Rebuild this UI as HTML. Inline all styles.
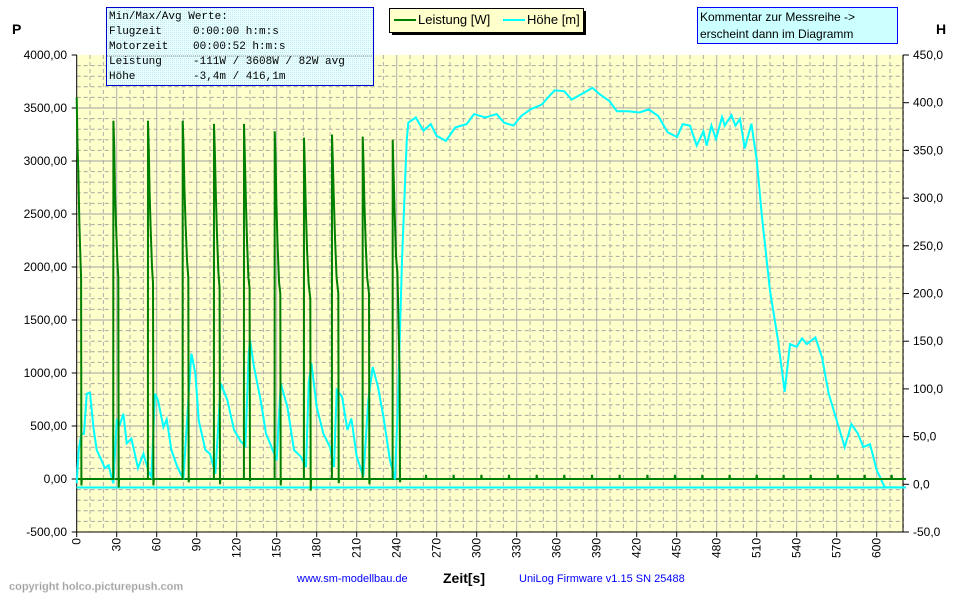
<!DOCTYPE html>
<html><head><meta charset="utf-8"><style>
body{margin:0;background:#fff;width:970px;height:604px;overflow:hidden;font-family:"Liberation Sans",Arial,sans-serif}
svg{position:absolute;left:0;top:0}
</style></head><body>
<svg id="chart" width="970" height="604" xmlns="http://www.w3.org/2000/svg">
<defs>
<pattern id="dots" width="2" height="2" patternUnits="userSpaceOnUse"><rect width="2" height="2" fill="#e6ffff"/><rect width="1" height="1" fill="#c8e8f0"/></pattern>
</defs>
<rect x="76.7" y="55" width="826.3" height="477" fill="#ffffcc"/>
<g id="grid"></g>
<g id="axes"></g>
<g id="series"></g>
<text x="12" y="34" font-size="14" font-weight="bold">P</text>
<text x="936" y="34" font-size="14" font-weight="bold">H</text>
<text x="443" y="583" font-size="14" font-weight="bold">Zeit[s]</text>
<text x="297" y="582" font-size="11" fill="#0000ff">www.sm-modellbau.de</text>
<text x="519" y="582" font-size="11" fill="#0000ff">UniLog Firmware v1.15 SN 25488</text>
<text x="9" y="590" font-size="11" font-weight="bold" fill="#999" stroke="#ddd" stroke-width="0.5">copyright holco.picturepush.com</text>
<g>
<rect x="106.5" y="7.5" width="267" height="78" fill="url(#dots)" stroke="#0000cc" stroke-width="1"/>
<line x1="107" y1="56" x2="373" y2="56" stroke="#888" stroke-dasharray="1,1"/>
<g font-family="'Liberation Mono',monospace" font-size="11" fill="#000">
<text x="109" y="19">Min/Max/Avg Werte:</text>
<text x="109" y="34">Flugzeit</text><text x="193" y="34">0:00:00 h:m:s</text>
<text x="109" y="49">Motorzeit</text><text x="193" y="49">00:00:52 h:m:s</text>
<text x="109" y="64">Leistung</text><text x="193" y="64">-111W / 3608W / 82W avg</text>
<text x="109" y="79">Höhe</text><text x="193" y="79">-3,4m / 416,1m</text>
</g></g>
<g>
<rect x="392" y="11" width="194" height="24" fill="#000"/>
<rect x="389.5" y="8.5" width="194" height="24" fill="#ffffcc" stroke="#000"/>
<line x1="394" y1="20" x2="416" y2="20" stroke="#008000" stroke-width="2"/>
<text x="418" y="24" font-size="13">Leistung [W]</text>
<line x1="503" y1="20" x2="525" y2="20" stroke="#00ffff" stroke-width="2"/>
<text x="527" y="24" font-size="13">Höhe [m]</text>
</g>
<g>
<rect x="697.5" y="7.5" width="200" height="36" fill="#ccffff" stroke="#0000ff"/>
<text x="700" y="21" font-size="12">Kommentar zur Messreihe -&gt;</text>
<text x="700" y="38" font-size="12">erscheint dann im Diagramm</text>
</g>
</svg>
<script>
const powerT=[0,0.6,1.2,2,3,3.3,3.5,3.8,
27.4,27.5,28.1,28.7,29.5,30.5,31.2,31.5,31.8,
53.4,53.5,54.1,54.7,55.5,56.5,57.2,57.5,57.8,
79.4,79.5,80.1,80.8,81.7,82.8,83.7,84,84.3,
102.9,103,103.6,104.3,105.2,106.3,107.2,107.5,107.8,
125.4,125.5,126.1,126.8,127.7,128.8,129.7,130,130.3,
148.4,148.5,149.1,149.8,150.7,151.8,152.7,153,153.3,
170.4,170.5,171.1,171.8,172.8,173.9,175.2,175.5,175.8,
191.4,191.5,192.1,192.8,193.8,194.9,196.2,196.5,196.8,
214.4,214.5,215.1,215.8,216.8,217.9,219.2,219.5,219.8,
236.9,237,237.6,238.5,239.5,240.5,241.5,242.2,242.5,242.8,
261.8,262,262.3,282.5,282.7,283,303.3,303.5,303.8,324,324.2,324.5,344.8,345,345.3,365.5,365.7,366,386.3,386.5,386.8,407,407.2,407.5,427.8,428,428.3,448.5,448.7,449,469,469.2,469.5,489.5,489.7,490,509.8,510,510.3,530,530.2,530.5,550.3,550.5,550.8,570.6,570.8,571.1,590.8,591,591.3,611,611.2,611.5,622];
const powerW=[3600,3150,2900,2400,2000,1900,-60,0,
0,3380,3150,2700,2400,2050,1900,-80,0,
0,3380,3100,2700,2350,2000,1850,-60,0,
0,3380,3150,2750,2400,2050,1900,-30,0,
0,3350,3100,2700,2300,1950,1800,-50,0,
0,3350,3050,2650,2250,1900,1800,-20,0,
0,3280,3050,2600,2200,1850,1750,-60,0,
0,3220,2950,2550,2150,1850,1700,-110,0,
0,3250,3000,2650,2250,1900,1750,-40,0,
0,3230,2980,2600,2200,1900,1750,-50,0,
0,3200,2900,2500,2100,1950,1400,1000,-30,0,
0,40,0,0,40,0,0,40,0,0,40,0,0,40,0,0,40,0,0,40,0,0,40,0,0,40,0,0,40,0,0,40,0,0,40,0,0,40,0,0,40,0,0,40,0,0,40,0,0,40,0,0,40,0,0];
const heightT=[0,1.5,3.5,5.5,7.5,10,12.5,15,18.7,21,24,26,27.5,30,32.5,35,37.5,41,46,50,54,56,58.7,61,65,67.5,71,75,80,84,86,89,91.5,96.5,100,104,108,113,118,123,126.5,129,130,133,138,142,145,150,153,158,163,168,172,174,176,180,185,190,193,195,199,203,206,210,215,218.7,222,226,230,235,238.7,241,244,247.5,
248.7,254.3,260,265.6,269.8,276.9,283.9,292.4,298,306.5,314.9,320.6,327.6,333.3,340.3,348.8,354.4,358.6,365.7,371.3,379.8,386.8,392.5,399.5,405.2,413.6,422,429.1,436.2,443.2,450.3,454.5,
460,465,470,472.5,476,479.5,484,486,491,494,497.5,501,506,510,514,520,526,531,535,540,544,547.5,554,559,564,570,576,581,586,590,595,600,606,622];
const heightH=[1,36,53,53,95,96,60,36,25,17,20,8,1,67,63,74,43,48,17,32,13,8,95,88,60,68,36,20,5,95,137,116,67,36,32,11,106,88,57,45,40,137,151,123,88,53,43,25,106,81,36,29,18,106,127,81,53,39,18,99,92,57,69,29,8,88,123,102,71,25,5,88,235,360,
379,384.5,370.7,377.6,365.5,360,374,377.6,388,384.5,388,379,376,386,393,398,407,413,412,403.4,410,415.5,408.6,401.7,391,391,389.7,393,386,369,364,377.6,
376,355,370,355,376,362,385,376,387,376,383,352,378,340,280,203,151,97,147,144,153,147,154,133,95,67,39,63,53,39,42,15,-3,-3.4];
const minHeight=[-3.4];
const leftTicks=[4000,3500,3000,2500,2000,1500,1000,500,0,-500];
const rightTicks=[450,400,350,300,250,200,150,100,50,0,-50];
const xTicks=[0,30,60,90,120,150,180,210,240,270,300,330,360,390,420,450,480,510,540,570,600];

const NS='http://www.w3.org/2000/svg';
const X0=76.7,X1=903,Y0=55,Y1=532;
const xs=t=>X0+t*(800/600);
const yL=v=>Y0+(4000-v)*(477/4500);
const yR=v=>Y0+(450-v)*(477/500);
function mk(tag,attrs,parent){const e=document.createElementNS(NS,tag);for(const k in attrs)e.setAttribute(k,attrs[k]);parent.appendChild(e);return e;}
const grid=document.getElementById('grid'),axes=document.getElementById('axes'),series=document.getElementById('series');
for(let v=3900;v>-500;v-=100){const y=yL(v);const solid=v%500===0;
 const l=mk('line',{x1:X0,x2:X1,y1:y,y2:y,stroke:solid?'#a0a0a0':'#a8a8a0','stroke-width':1,'stroke-dasharray':solid?'':'4,3'},grid);
 
 }
for(let t=10;t<622;t+=10){const x=xs(t);const solid=t%30===0;
 const l=mk('line',{x1:x,x2:x,y1:Y0,y2:Y1,stroke:solid?'#b0b0b0':'#b0b0a8','stroke-width':1,'stroke-dasharray':solid?'':'4,3'},grid);
 
 }
mk('line',{x1:X0,x2:X0,y1:Y0,y2:Y1,stroke:'#000'},axes);
mk('line',{x1:X0,x2:X1,y1:Y1,y2:Y1,stroke:'#000'},axes);
mk('line',{x1:X1,x2:X1,y1:Y0,y2:Y1,stroke:'#000'},axes);
leftTicks.forEach(v=>{const y=yL(v);mk('line',{x1:X0-5,x2:X0,y1:y,y2:y,stroke:'#000'},axes);
 const t=mk('text',{x:67,y:y+4,'font-size':12,'text-anchor':'end'},axes);t.textContent=v.toFixed(2).replace('.',',');
 
 });
rightTicks.forEach(v=>{const y=yR(v);mk('line',{x1:X1,x2:X1+6,y1:y,y2:y,stroke:'#000'},axes);
 const t=mk('text',{x:913,y:y+4,'font-size':12},axes);t.textContent=v.toFixed(1).replace('.',',');
 
 });
xTicks.forEach(v=>{const x=xs(v);mk('line',{x1:x,x2:x,y1:Y1,y2:Y1+5,stroke:'#000'},axes);
 const t=mk('text',{x:0,y:0,'font-size':12,'text-anchor':'end',transform:`translate(${x+4},${Y1+6}) rotate(-90)`},axes);t.textContent=v;
 
 });
const zl=mk('line',{x1:X0,x2:X1,y1:yL(0),y2:yL(0),stroke:'#008000','stroke-width':2},series);


const ml=mk('line',{x1:X0,x2:X1,y1:yR(minHeight[0]),y2:yR(minHeight[0]),stroke:'#00ffff','stroke-width':2},series);


const hp=mk('polyline',{points:heightT.map((t,i)=>xs(t).toFixed(1)+','+yR(heightH[i]).toFixed(1)).join(' '),fill:'none',stroke:'#00ffff','stroke-width':2},series);


const pp=mk('polyline',{points:powerT.map((t,i)=>xs(t).toFixed(1)+','+yL(powerW[i]).toFixed(1)).join(' '),fill:'none',stroke:'#008000','stroke-width':2},series);


</script>
</body></html>
